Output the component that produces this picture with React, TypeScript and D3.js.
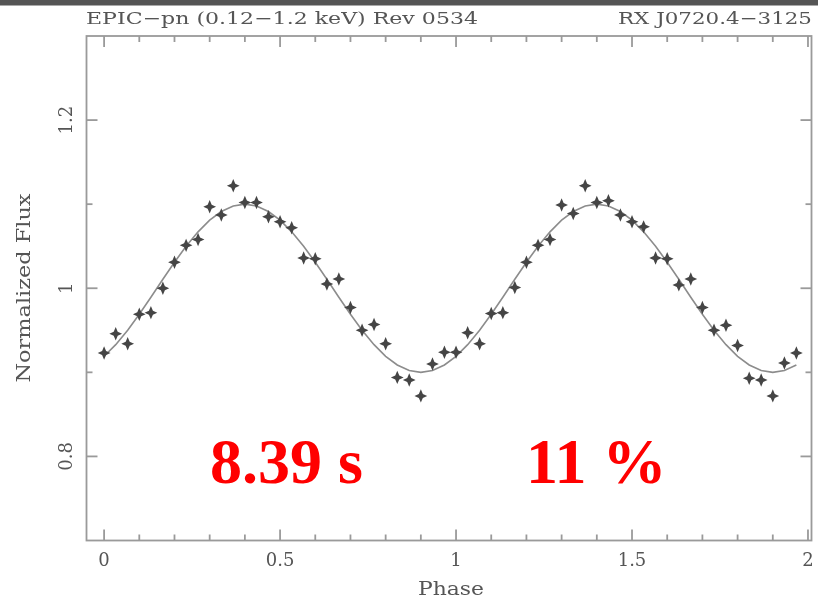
import React from 'react';
import * as d3 from 'd3';

// Phase bins (two cycles, 30 bins per cycle)
const phases = [
  0.000, 0.033, 0.067, 0.100, 0.133, 0.167, 0.200, 0.233, 0.267, 0.300,
  0.333, 0.367, 0.400, 0.433, 0.467, 0.500, 0.533, 0.567, 0.600, 0.633,
  0.667, 0.700, 0.733, 0.767, 0.800, 0.833, 0.867, 0.900, 0.933, 0.967,
  1.000, 1.033, 1.067, 1.100, 1.133, 1.167, 1.200, 1.233, 1.267, 1.300,
  1.333, 1.367, 1.400, 1.433, 1.467, 1.500, 1.533, 1.567, 1.600, 1.633,
  1.667, 1.700, 1.733, 1.767, 1.800, 1.833, 1.867, 1.900, 1.933, 1.967,
];

// Normalized flux per phase bin
const flux = [
  0.923, 0.946, 0.934, 0.969, 0.971, 1.000, 1.031, 1.051, 1.058, 1.097,
  1.087, 1.122, 1.102, 1.102, 1.085, 1.079, 1.072, 1.036, 1.035, 1.005,
  1.011, 0.977, 0.950, 0.957, 0.934, 0.894, 0.891, 0.872, 0.910, 0.924,
  0.924, 0.947, 0.934, 0.970, 0.971, 1.001, 1.031, 1.051, 1.058, 1.099,
  1.089, 1.122, 1.102, 1.104, 1.087, 1.079, 1.073, 1.036, 1.035, 1.004,
  1.011, 0.977, 0.950, 0.956, 0.932, 0.893, 0.891, 0.872, 0.911, 0.923,
];

const fluxErr = 0.008;
const binHalfWidth = 1 / 60;

// Sinusoidal model fit
const fitMean = 1.0;
const fitAmp = 0.1;
const fitPeakPhase = 0.4;

const xMajorTicks = [0, 0.5, 1, 1.5, 2];
const xTickLabels = ['0', '0.5', '1', '1.5', '2'];
const xMinorTicks = [0.1, 0.2, 0.3, 0.4, 0.6, 0.7, 0.8, 0.9, 1.1, 1.2, 1.3, 1.4, 1.6, 1.7, 1.8, 1.9];
const yMajorTicks = [0.8, 1, 1.2];
const yTickLabels = ['0.8', '1', '1.2'];
const yMinorTicks = [0.9, 1.1];

const titleLeft = 'EPIC\u2212pn (0.12\u22121.2 keV) Rev 0534';
const titleRight = 'RX J0720.4\u22123125';
const xLabel = 'Phase';
const yLabel = 'Normalized Flux';
const periodText = '8.39 s';
const pulsedText = '11 %';

const W = 818;
const H = 598;
const L = 86.5, R = 811.5, T = 36, B = 540.5;

export default function App() {
  const x = d3.scaleLinear().domain([-0.05, 2.01]).range([L, R]);
  const y = d3.scaleLinear().domain([0.7, 1.3]).range([B, T]);

  const frameColor = '#9a9a9a';
  const textColor = '#555';
  const markColor = '#454545';
  const serif = '"DejaVu Serif", "Liberation Serif", serif';

  const model = phases.map((p) => [p, fitMean + fitAmp * Math.cos(2 * Math.PI * (p - fitPeakPhase))] as [number, number]);
  const line = d3.line<[number, number]>().x((d) => x(d[0])).y((d) => y(d[1]));

  const major = 11;
  const minor = 6;

  const starPath = (cx: number, cy: number) => {
    const hx = x(binHalfWidth) - x(0) + 0.5;
    const hy = y(1) - y(1 + fluxErr);
    const w = 2.0;
    return `M${cx - hx},${cy} L${cx - w},${cy - w} L${cx},${cy - hy} L${cx + w},${cy - w} L${cx + hx},${cy} L${cx + w},${cy + w} L${cx},${cy + hy} L${cx - w},${cy + w} Z`;
  };

  return (
    <svg width={W} height={H} style={{ position: 'absolute', left: 0, top: 0, background: '#fff' }}>
      <defs>
        <filter id="soft" x="-10%" y="-10%" width="120%" height="120%">
          <feGaussianBlur stdDeviation="0.55" />
        </filter>
      </defs>
      <rect x={0} y={0} width={W} height={H} fill="#fff" />
      <rect x={0} y={0} width={W} height={5.5} fill="#555" />

      {/* Titles */}
      <g fill={textColor} fontFamily={serif} fontSize={17} filter="url(#soft)">
        <text x={86} y={24} textLength={392} lengthAdjust="spacingAndGlyphs">{titleLeft}</text>
        <text x={618} y={24} textLength={194} lengthAdjust="spacingAndGlyphs">{titleRight}</text>
      </g>

      {/* Frame and ticks */}
      <g stroke={frameColor} strokeWidth={1.8} fill="none">
        <rect x={L} y={T} width={R - L} height={B - T} />
        {xMajorTicks.map((t) => (
          <g key={'xM' + t}>
            <line x1={x(t)} x2={x(t)} y1={B} y2={B - major} />
            <line x1={x(t)} x2={x(t)} y1={T} y2={T + major} />
          </g>
        ))}
        {xMinorTicks.map((t) => (
          <g key={'xm' + t}>
            <line x1={x(t)} x2={x(t)} y1={B} y2={B - minor} />
            <line x1={x(t)} x2={x(t)} y1={T} y2={T + minor} />
          </g>
        ))}
        {yMajorTicks.map((t) => (
          <g key={'yM' + t}>
            <line x1={L} x2={L + major} y1={y(t)} y2={y(t)} />
            <line x1={R} x2={R - major} y1={y(t)} y2={y(t)} />
          </g>
        ))}
        {yMinorTicks.map((t) => (
          <g key={'ym' + t}>
            <line x1={L} x2={L + minor} y1={y(t)} y2={y(t)} />
            <line x1={R} x2={R - minor} y1={y(t)} y2={y(t)} />
          </g>
        ))}
      </g>

      {/* Tick labels */}
      <g fill={textColor} fontFamily={serif} fontSize={18} filter="url(#soft)">
        {xMajorTicks.map((t, i) => (
          <text key={'xl' + t} x={x(t)} y={566} textAnchor="middle">{xTickLabels[i]}</text>
        ))}
        {yMajorTicks.map((t, i) => (
          <text key={'yl' + t} transform={`translate(72,${y(t)}) rotate(-90)`} textAnchor="middle">{yTickLabels[i]}</text>
        ))}
        <text x={451} y={595} textAnchor="middle" fontSize={19} textLength={66} lengthAdjust="spacingAndGlyphs">{xLabel}</text>
        <text transform={`translate(30,${288}) rotate(-90)`} textAnchor="middle" fontSize={18} textLength={189} lengthAdjust="spacingAndGlyphs">{yLabel}</text>
      </g>

      {/* Model curve */}
      <path d={line(model) || ''} fill="none" stroke="#8c8c8c" strokeWidth={1.6} />

      {/* Data points */}
      <g filter="url(#soft)">
        {phases.map((p, i) => {
          const cx = x(p);
          const cy = y(flux[i]);
          return <path key={'pt' + i} d={starPath(cx, cy)} fill={markColor} />;
        })}
      </g>

      {/* Annotations */}
      <g fill="#ff0000" fontFamily='"Liberation Serif", "Times New Roman", serif' fontWeight="bold" fontSize={64}>
        <text x={210} y={483}>{periodText}</text>
        <text x={526} y={483}>{pulsedText}</text>
      </g>
    </svg>
  );
}
